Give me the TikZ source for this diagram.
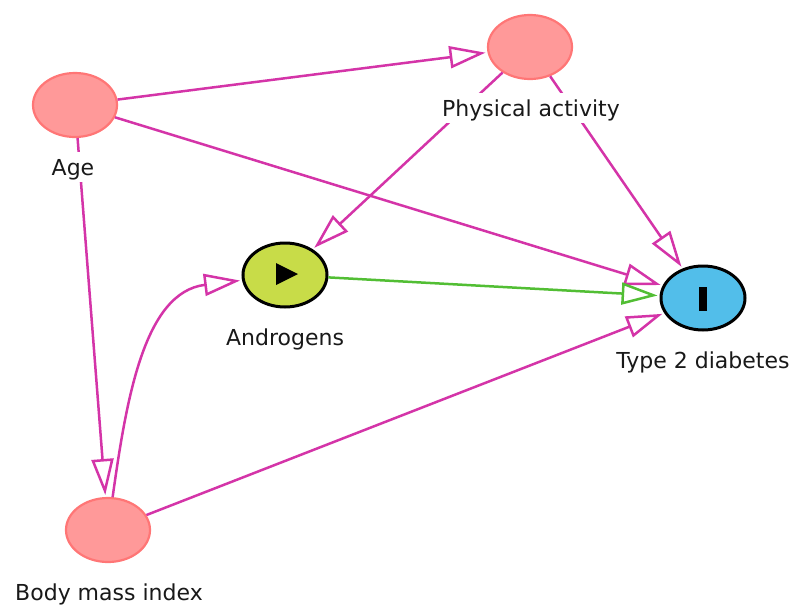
\documentclass[tikz,border=0pt]{standalone}
\usepackage{fontspec}
\setmainfont{DejaVu Sans}
\usetikzlibrary{arrows.meta,shapes.geometric}

\definecolor{edgemag}{RGB}{212,52,168}
\definecolor{edgegrn}{RGB}{82,190,52}
\definecolor{pinkfill}{RGB}{255,153,153}
\definecolor{pinkline}{RGB}{255,118,118}
\definecolor{exposure}{RGB}{200,220,72}
\definecolor{outcome}{RGB}{82,190,234}
\definecolor{labeltext}{RGB}{25,25,25}

\begin{document}
\begin{tikzpicture}[x=1pt,y=1pt,
  var/.style={ellipse, minimum width=84pt, minimum height=64pt, inner sep=0pt},
  other/.style={var, fill=pinkfill, draw=pinkline, line width=2.2pt},
  keyvar/.style={var, draw=black, line width=3pt},
  lbl/.style={anchor=base, font=\fontsize{22}{26}\selectfont, text=labeltext,
              fill=white, inner sep=0pt, text height=23pt, text depth=7pt},
  causal/.style={draw=edgemag, line width=2.5pt,
                 -{Triangle[open, length=36pt, width=22pt]}, shorten >=2pt},
  direct/.style={causal, draw=edgegrn}]

  \useasboundingbox (0,0) rectangle (798,-606);

  % variables
  \node[other] (age) at (75,-105) {};
  \node[other] (pa) at (530,-47) {};
  \node[keyvar, fill=exposure] (andro) at (285,-275) {};
  \node[keyvar, fill=outcome] (t2d) at (703,-298) {};
  \node[other] (bmi) at (108,-530) {};

  % exposure / outcome markers
  \fill (276,-263) -- (298,-274) -- (276,-285) -- cycle;
  \fill (699,-287) rectangle (707,-311);

  % causal paths
  \draw[causal] (age) -- (pa);
  \draw[causal] (age) -- (t2d);
  \draw[causal] (age) -- (bmi);
  \draw[causal] (pa) -- (andro);
  \draw[causal] (pa) -- (t2d);
  \draw[causal] (bmi) -- (t2d);
  \draw[causal] (bmi) to[out=82, in=187] (andro);
  \draw[direct] (andro) -- (t2d);

  % labels
  \node[lbl] (agelbl) at (73,-175) {Age};
  \node[lbl] (palbl) at (531,-116) {Physical activity};
  \node[lbl] (androlbl) at (285,-345) {Androgens};
  \node[lbl] (t2dlbl) at (703,-368) {Type 2 diabetes};
  \node[lbl] (bmilbl) at (109,-600) {Body mass index};
\end{tikzpicture}
\end{document}
